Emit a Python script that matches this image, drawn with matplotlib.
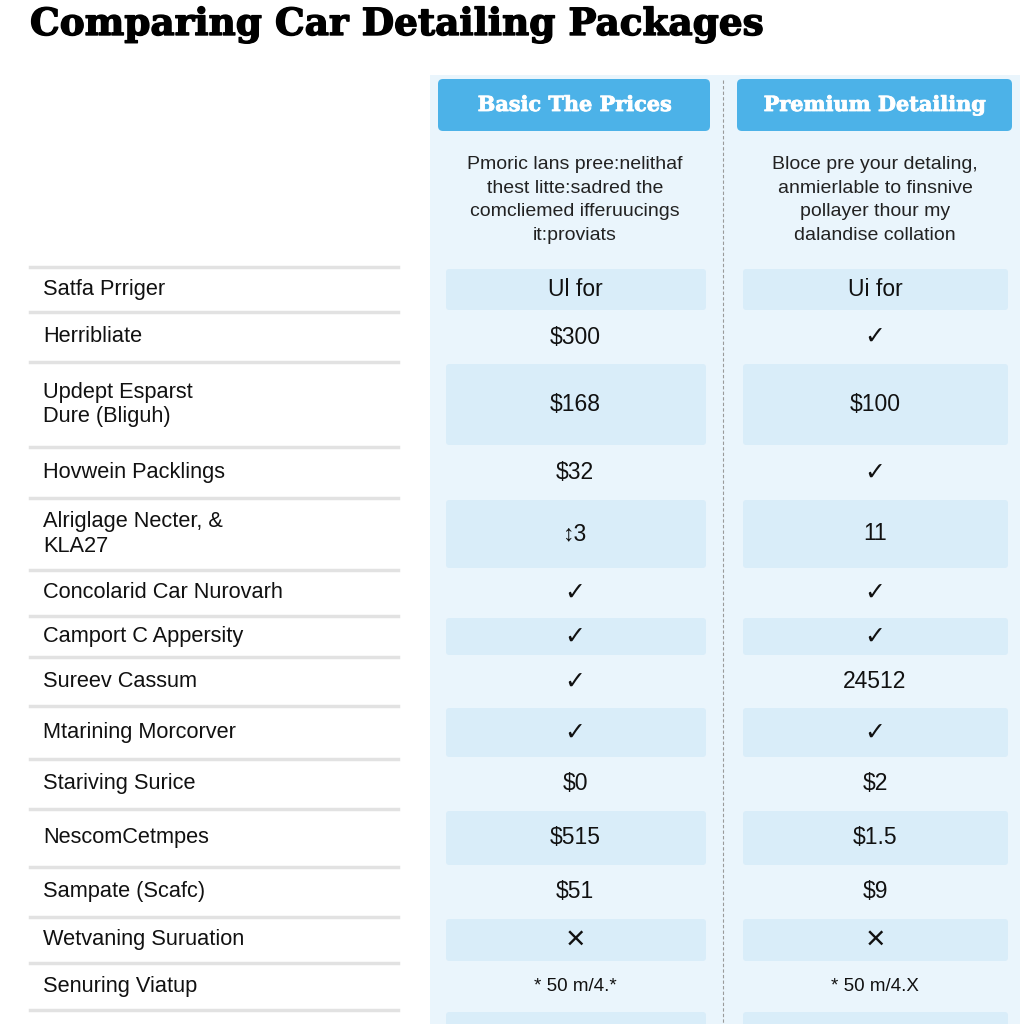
import matplotlib.pyplot as plt
import matplotlib.patheffects as pe
from matplotlib.patches import FancyBboxPatch, Rectangle

# table content
features = ["Satfa Prriger", "Herribliate", "Updept Esparst\nDure (Bliguh)",
            "Hovwein Packlings", "Alriglage Necter, &\nKLA27",
            "Concolarid Car Nurovarh", "Camport C Appersity", "Sureev Cassum",
            "Mtarining Morcorver", "Stariving Surice", "NescomCetmpes",
            "Sampate (Scafc)", "Wetvaning Suruation", "Senuring Viatup"]
basic = ["Ul for", "$300", "$168", "$32", "\u21953", "\u2713", "\u2713", "\u2713",
         "\u2713", "$0", "$515", "$51", "\u00d7", "* 50 m/4.*"]
premium = ["Ui for", "\u2713", "$100", "\u2713", "11", "\u2713", "\u2713", "24512",
           "\u2713", "$2", "$1.5", "$9", "\u00d7", "* 50 m/4.X"]
packages = ["Basic The Prices", "Premium Detailing"]
descriptions = ["Pmoric lans pree:nelithaf\nthest litte:sadred the\ncomcliemed ifferuucings\nit:proviats",
                "Bloce pre your detaling,\nanmierlable to finsnive\npollayer thour my\ndalandise collation"]

# row separators (pixel y)
row_lines = [267, 312, 362, 447, 498, 570, 616, 657, 706, 759, 809, 867, 917, 963, 1010]

blue = "#4cb2e8"
panel = "#eaf5fc"
shade = "#d9edf9"
sans = ["Liberation Sans", "DejaVu Sans"]

fig = plt.figure(figsize=(10.24, 10.24), dpi=100)
ax = fig.add_axes([0, 0, 1, 1])
ax.set_xlim(0, 1024)
ax.set_ylim(1024, 0)
ax.axis("off")

# title
t = ax.text(30, 35, "Comparing Car Detailing Packages", fontsize=30,
            fontfamily="DejaVu Serif", fontweight="heavy", va="baseline", ha="left",
            path_effects=[pe.withStroke(linewidth=1.0, foreground="black")])
fig.canvas.draw()
w = t.get_window_extent().width
t.set_fontsize(30 * 733 / w)

# light panel behind the package columns
ax.add_patch(Rectangle((430, 75), 590, 960, facecolor=panel, edgecolor="none", zorder=0))
ax.plot([723, 723], [80, 1024], color="#9a9a9a", lw=0.8, ls=(0, (3, 2)), zorder=1)

col_x = [(438, 710), (737, 1012)]
cell_x = [(446, 706), (743, 1008)]
centers = [575, 875]

for (x0, x1), name, desc, cx in zip(col_x, packages, descriptions, centers):
    ax.add_patch(FancyBboxPatch((x0, 79), x1 - x0, 52, boxstyle="round,pad=0,rounding_size=5",
                                facecolor=blue, edgecolor="none", zorder=2))
    ax.text(cx, 105, name, color="white", fontsize=15, fontfamily="DejaVu Serif",
            fontweight="bold", ha="center", va="center", zorder=3,
            path_effects=[pe.withStroke(linewidth=0.6, foreground="white")])
    ax.text(cx, 200, desc, fontsize=14, fontfamily=sans, ha="center", va="center",
            linespacing=1.5, color="#222222", zorder=3)

tops = row_lines[:-1]
bottoms = row_lines[1:]
for i, (top, bot) in enumerate(zip(tops, bottoms)):
    mid = (top + bot) / 2
    if i % 2 == 0:
        for x0, x1 in cell_x:
            ax.add_patch(FancyBboxPatch((x0, top + 2), x1 - x0, bot - top - 4,
                                        boxstyle="round,pad=0,rounding_size=3",
                                        facecolor=shade, edgecolor="none", zorder=1))
    ax.text(43, mid, features[i], fontsize=15.7, fontfamily=sans, ha="left", va="center",
            linespacing=1.2, color="#111111")
    for cx, vals in zip(centers, [basic, premium]):
        v = vals[i]
        kw = dict(fontsize=16.5, fontweight="normal")
        if v.startswith("*"):
            kw["fontsize"] = 13.5
        elif v == "\u2713":
            kw = dict(fontsize=18, fontweight="bold")
        elif v == "\u00d7":
            kw["fontsize"] = 24
        ax.text(cx, mid, v, fontfamily=sans, ha="center", va="center",
                color="#111111", zorder=3, **kw)

# last partial shaded row at bottom
for x0, x1 in cell_x:
    ax.add_patch(FancyBboxPatch((x0, row_lines[-1] + 2), x1 - x0, 40,
                                boxstyle="round,pad=0,rounding_size=3",
                                facecolor=shade, edgecolor="none", zorder=1))

for y in row_lines:
    ax.plot([30, 398], [y, y], color="#e2e2e2", lw=2.5, zorder=1)

fig.savefig("out.png", dpi=100)
